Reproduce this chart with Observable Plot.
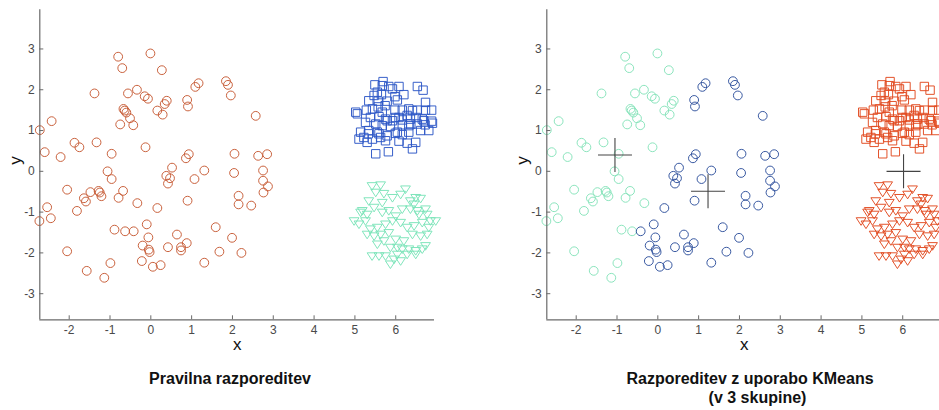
<!DOCTYPE html>
<html>
<head>
<meta charset="utf-8">
<script src="https://cdn.jsdelivr.net/npm/d3@7"></script>
<script src="https://cdn.jsdelivr.net/npm/@observablehq/plot@0.6"></script>
<style>
  html, body { margin: 0; padding: 0; background: #fff; overflow: hidden; width: 939px; height: 410px; }
  #wrap { position: relative; width: 939px; height: 410px; font-family: "Liberation Sans", Arial, sans-serif; }
  .panel { position: absolute; top: 0; }
  .title { position: absolute; font-weight: bold; font-size: 16px; line-height: 20px; color: #111;
           white-space: nowrap; transform: translateX(-50%); }
</style>
</head>
<body>
<div id="wrap"></div>
<script>
// Axis setup
const xDomain = [-2.72, 6.95];
const yDomain = [-3.64, 3.96];
const xTicks = [-2, -1, 0, 1, 2, 3, 4, 5, 6];
const yTicks = [-3, -2, -1, 0, 1, 2, 3];

// Group 1: widely scattered points (circles)
const circles = [
  [-2.72,1.01],[-2.43,1.23],[-2.60,0.47],[-2.21,0.35],[-1.87,0.70],[-1.75,0.59],[-1.33,0.71],[-1.38,1.91],
  [-0.80,2.81],[-0.70,2.53],[-0.01,2.89],[0.27,2.48],[-0.56,1.91],[-0.34,2.00],[-0.15,1.84],[-0.07,1.78],
  [-0.67,1.53],[-0.64,1.49],[-0.60,1.44],[-0.51,1.30],[-0.43,1.13],[-0.75,1.15],[0.16,1.49],[0.29,1.39],
  [0.34,1.65],[0.39,1.73],[0.89,1.75],[0.91,1.59],[1.09,2.07],[1.17,2.16],[1.84,2.21],[1.89,2.12],
  [1.96,1.86],[2.57,1.36],[0.86,0.32],[0.93,0.42],[2.05,0.43],[2.63,0.38],[2.85,0.42],[-0.96,0.43],
  [-0.13,0.59],[-1.06,0.00],[-0.96,-0.19],[0.52,0.09],[1.31,0.02],[2.04,-0.04],[2.75,0.02],[0.38,-0.11],
  [0.47,-0.17],[0.42,-0.30],[1.07,-0.19],[2.75,-0.23],[2.87,-0.37],[2.76,-0.52],[2.15,-0.60],[2.15,-0.81],
  [2.46,-0.84],[0.90,-0.72],[0.16,-0.90],[-0.33,-0.78],[-0.79,-0.65],[-0.68,-0.48],[-1.48,-0.51],[-1.28,-0.48],
  [-1.25,-0.52],[-1.21,-0.61],[-1.64,-0.66],[-1.59,-0.74],[-1.81,-0.97],[-2.05,-0.45],[-2.54,-0.88],[-2.45,-1.15],
  [-2.73,-1.22],[-0.89,-1.43],[-0.63,-1.47],[-0.42,-1.47],[-0.10,-1.30],[-0.06,-1.62],[-0.20,-1.82],[-0.05,-1.92],
  [-0.03,-1.98],[0.42,-1.86],[0.64,-1.55],[0.88,-1.76],[0.74,-1.86],[0.74,-1.94],[1.59,-1.37],[1.99,-1.63],
  [1.68,-1.97],[2.22,-2.00],[1.31,-2.24],[0.24,-2.30],[0.05,-2.34],[-0.22,-2.20],[-0.99,-2.25],[-1.57,-2.44],
  [-1.14,-2.61],[-2.05,-1.96]
];

// Group 2: tight cluster above (squares)
const squares = [
  [5.69,2.20],[5.67,2.10],[5.49,2.12],[5.83,2.08],[6.08,2.08],[5.92,2.02],[6.53,2.08],[6.67,1.99],
  [5.55,1.94],[5.47,1.86],[5.65,1.88],[5.98,1.83],[6.20,1.88],[5.34,1.73],[5.57,1.72],[5.79,1.72],
  [6.04,1.75],[6.73,1.69],[5.02,1.45],[5.06,1.41],[5.28,1.50],[5.43,1.53],[5.57,1.58],[5.74,1.61],
  [5.98,1.50],[6.16,1.50],[6.32,1.53],[6.53,1.50],[6.73,1.50],[6.88,1.50],[5.38,1.32],[5.59,1.34],
  [5.75,1.28],[5.92,1.24],[6.08,1.32],[6.28,1.37],[6.37,1.16],[6.50,1.32],[6.65,1.28],[6.88,1.23],
  [6.90,1.18],[5.26,1.20],[5.51,1.16],[5.67,1.12],[5.87,1.10],[6.16,1.14],[6.32,1.12],[6.53,1.16],
  [6.72,1.14],[5.14,0.96],[5.33,0.92],[5.59,0.92],[5.63,0.83],[5.79,0.87],[5.99,0.93],[6.16,0.90],
  [6.32,0.96],[6.61,1.00],[5.22,0.83],[5.43,0.79],[5.75,0.75],[6.08,0.74],[6.28,0.69],[6.49,0.71],
  [5.51,0.43],[5.82,0.48],[5.67,1.45],[6.41,1.49],[5.79,1.24],[5.99,1.32],[6.16,1.26],[6.36,1.28],
  [6.69,1.24],[5.34,1.00],[5.55,0.96],[6.04,0.96],[6.81,1.00],[5.10,0.79],[5.30,0.71],[6.41,0.55]
];

// Group 3: tight cluster below (triangles)
const triangles = [
  [5.42,-0.35],[5.63,-0.33],[5.51,-0.51],[5.71,-0.54],[5.92,-0.64],[6.24,-0.43],[6.49,-0.64],[6.61,-0.66],
  [6.36,-0.72],[6.12,-0.56],[5.18,-0.96],[5.30,-1.05],[5.47,-0.88],[5.67,-1.00],[5.83,-0.96],[6.00,-1.09],
  [6.16,-0.92],[6.36,-0.92],[6.53,-0.96],[6.73,-0.92],[6.77,-1.05],[4.98,-1.21],[5.10,-1.29],[5.26,-1.21],
  [5.38,-1.41],[5.55,-1.37],[5.75,-1.29],[5.92,-1.21],[6.12,-1.25],[6.28,-1.37],[6.45,-1.33],[6.65,-1.25],
  [6.85,-1.21],[6.98,-1.21],[6.81,-1.37],[5.30,-1.54],[5.47,-1.58],[5.63,-1.54],[5.83,-1.50],[6.00,-1.66],
  [6.20,-1.70],[6.41,-1.54],[6.61,-1.58],[6.73,-1.82],[6.04,-1.86],[6.16,-1.90],[6.32,-1.90],[6.49,-1.94],
  [6.65,-1.90],[5.42,-2.07],[5.59,-2.07],[5.75,-2.07],[5.96,-2.15],[6.12,-2.19],[6.28,-2.03],[6.49,-2.03],
  [5.87,-2.27],[6.04,-2.03],[5.87,-1.86],[5.14,-1.00],[5.34,-0.72],[5.67,-0.76],[6.45,-0.80],[6.57,-1.05],
  [5.55,-1.78],[5.71,-1.70],[6.77,-1.54]
];

// KMeans result: three centroids
const centroids = [[-1.05, 0.40], [1.23, -0.49], [6.02, 0.00]];

const titleLeft = "Pravilna razporeditev";
const titleRight = ["Razporeditev z uporabo KMeans", "(v 3 skupine)"];

// Colours
const trueColors = {circle: "#c65a34", square: "#2c56c6", triangle: "#7ae4b8"};
const clusterColors = ["#86e3b9", "#2e509c", "#e24a20"];
const axisGrey = "#6a6a6a";
const tickGrey = "#4a4a4a";

// Marker shapes (sized from r via size = r*r*PI)
const rad = size => Math.sqrt(size / Math.PI);
const squareSym = {draw(ctx, size) { const r = rad(size); ctx.rect(-r, -r, 2 * r, 2 * r); }};
const downTri = {draw(ctx, size) {
  const r = rad(size);
  ctx.moveTo(-r, -0.6 * r); ctx.lineTo(r, -0.6 * r); ctx.lineTo(0, 0.95 * r); ctx.closePath();
}};
const thinPlus = {draw(ctx, size) {
  const r = rad(size);
  ctx.moveTo(-r, 0); ctx.lineTo(r, 0); ctx.moveTo(0, -r); ctx.lineTo(0, r);
}};

const nearest = (x, y) => d3.minIndex(centroids, ([cx, cy]) => (x - cx) ** 2 + (y - cy) ** 2);
const toRows = (pts, shape) => pts.map(([x, y]) => ({x, y, shape, cluster: nearest(x, y)}));
const rows = {
  circle: toRows(circles, "circle"),
  square: toRows(squares, "square"),
  triangle: toRows(triangles, "triangle")
};
const centroidRows = centroids.map(([x, y]) => ({x, y}));

const shapeOpts = {
  circle: {symbol: "circle", r: 4.4},
  square: {symbol: squareSym, r: 4.2},
  triangle: {symbol: downTri, r: 4.9}
};

function panel(pointMarks) {
  return Plot.plot({
    width: 470, height: 360,
    marginLeft: 39.3, marginRight: 36, marginTop: 9.3, marginBottom: 40.7,
    style: {fontFamily: "'Liberation Sans', Arial, sans-serif", background: "transparent", overflow: "visible"},
    x: {domain: xDomain},
    y: {domain: yDomain},
    marks: [
      ...pointMarks,
      Plot.ruleX([xDomain[0]], {stroke: axisGrey, strokeWidth: 1.2}),
      Plot.ruleY([yDomain[0]], {stroke: axisGrey, strokeWidth: 1.2}),
      Plot.axisX(xTicks, {tickSize: -4, tickPadding: 10, fontSize: 12, stroke: axisGrey, fill: tickGrey,
                          tickFormat: d => String(d), label: null}),
      Plot.axisY(yTicks, {tickSize: -4, tickPadding: 9, fontSize: 12, stroke: axisGrey, fill: tickGrey,
                          tickFormat: d => String(d), label: null}),
      Plot.text(["x"], {frameAnchor: "bottom", dy: 30, fontSize: 17, fill: "#111"}),
      Plot.text(["y"], {frameAnchor: "left", dx: -24, rotate: -90, fontSize: 17, fill: "#111"})
    ]
  });
}

const leftMarks = ["circle", "square", "triangle"].map(s =>
  Plot.dot(rows[s], {x: "x", y: "y", ...shapeOpts[s], fill: "none", stroke: trueColors[s], strokeWidth: 0.95})
);

const rightMarks = [
  ...["circle", "square", "triangle"].map(s =>
    Plot.dot(rows[s], {x: "x", y: "y", ...shapeOpts[s], fill: "none",
                       stroke: d => clusterColors[d.cluster], strokeWidth: 0.95})
  ),
  Plot.dot(centroidRows, {x: "x", y: "y", symbol: thinPlus, r: 17, fill: "none", stroke: "#444", strokeWidth: 1.1})
];

const wrap = document.getElementById("wrap");

const left = panel(leftMarks);
left.classList.add("panel");
left.style.left = "0px";
wrap.appendChild(left);

const right = panel(rightMarks);
right.classList.add("panel");
right.style.left = "507.4px";
wrap.appendChild(right);

function addTitle(text, cx, cy) {
  const div = document.createElement("div");
  div.className = "title";
  div.textContent = text;
  div.style.left = cx + "px";
  div.style.top = (cy - 10) + "px";
  wrap.appendChild(div);
}
addTitle(titleLeft, 230, 379);
addTitle(titleRight[0], 750, 379);
addTitle(titleRight[1], 757.5, 398);
</script>
</body>
</html>
